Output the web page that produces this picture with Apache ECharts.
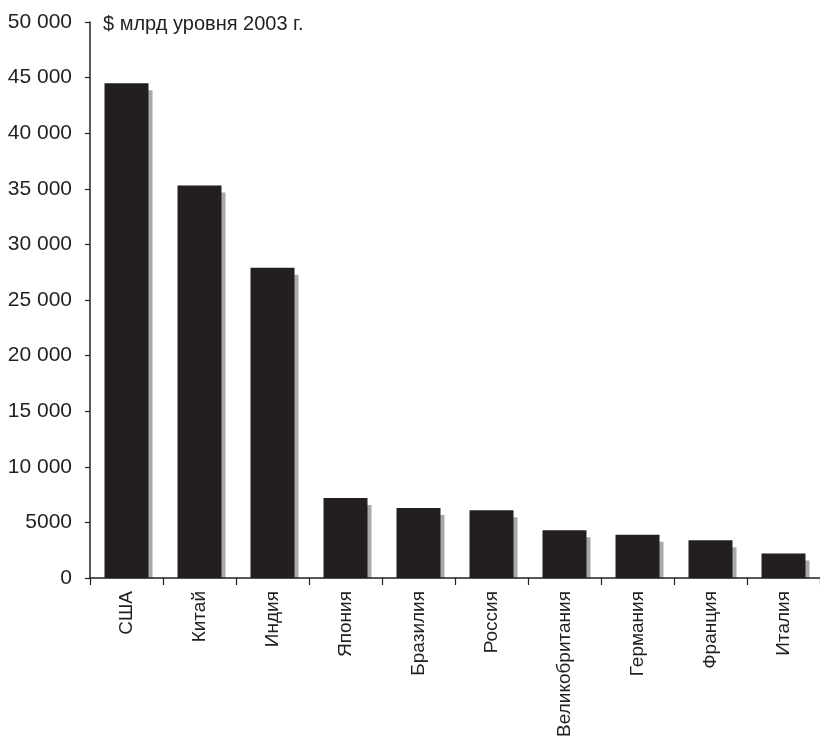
<!DOCTYPE html>
<html>
<head>
<meta charset="utf-8">
<script src="https://cdn.jsdelivr.net/npm/echarts@6/dist/echarts.min.js"></script>
<style>
html,body{margin:0;padding:0;background:#fff;}
#chart{width:820px;height:740px;}
</style>
</head>
<body>
<div id="chart"></div>
<script>
const categories = ['США','Китай','Индия','Япония','Бразилия','Россия','Великобритания','Германия','Франция','Италия'];
const values = [44500, 35300, 27900, 7200, 6300, 6100, 4300, 3900, 3400, 2200];
const unitLabel = '$ млрд уровня 2003 г.';

const ink = '#231f20';
const font = '"Liberation Sans", Arial, sans-serif';

function fmt(v) {
  if (v >= 10000) {
    const s = String(v);
    return s.slice(0, s.length - 3) + ' ' + s.slice(-3);
  }
  return String(v);
}

const chart = echarts.init(document.getElementById('chart'), null, {renderer: 'canvas'});
chart.setOption({
  animation: false,
  backgroundColor: '#ffffff',
  textStyle: {fontFamily: font, color: ink},
  title: {
    text: unitLabel,
    left: 98, top: 9,
    textStyle: {fontSize: 20, fontWeight: 'normal', color: ink, fontFamily: font}
  },
  grid: {left: 90, right: 0, top: 22, bottom: 162, containLabel: false, outerBoundsMode: 'none'},
  xAxis: {
    type: 'category',
    data: categories,
    z: 10,
    axisLine: {lineStyle: {color: ink, width: 1.5}},
    axisTick: {show: true, length: 7, lineStyle: {color: ink, width: 1.2}},
    axisLabel: {rotate: 90, fontSize: 19, color: ink, margin: 13, fontFamily: font}
  },
  yAxis: {
    type: 'value',
    min: 0, max: 50000, interval: 5000,
    z: 10,
    splitLine: {show: false},
    axisLine: {show: true, lineStyle: {color: ink, width: 1.5}},
    axisTick: {show: true, length: 5, lineStyle: {color: ink, width: 1.2}},
    axisLabel: {fontSize: 21, color: ink, margin: 18, fontFamily: font, formatter: fmt}
  },
  series: [{
    type: 'bar',
    data: values,
    barWidth: 44,
    itemStyle: {
      color: ink,
      borderWidth: 0,
      shadowColor: '#a9a9ab',
      shadowBlur: 0,
      shadowOffsetX: 4,
      shadowOffsetY: 7
    }
  }]
});

// mask the part of the drop shadow that falls below the x axis
const origin = chart.convertToPixel({xAxisIndex: 0, yAxisIndex: 0}, [0, 0]);
chart.setOption({
  graphic: [{
    type: 'rect',
    z: 5,
    shape: {x: 88, y: origin[1] + 0.5, width: 740, height: 12},
    style: {fill: '#ffffff'}
  }]
});
</script>
</body>
</html>
